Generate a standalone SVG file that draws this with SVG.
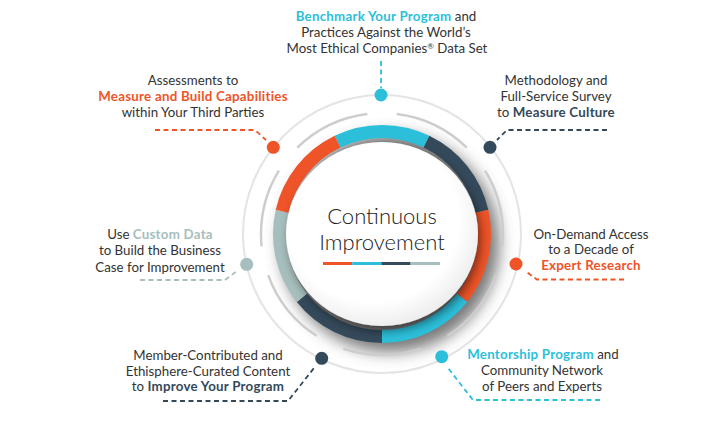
<svg xmlns="http://www.w3.org/2000/svg" width="726" height="427" viewBox="0 0 726 427">
  <defs>
    <filter id="ringShadow" x="-30%" y="-30%" width="160%" height="160%">
      <feGaussianBlur stdDeviation="8"/>
    </filter>
    <filter id="discShadow" x="-20%" y="-20%" width="140%" height="140%">
      <feDropShadow dx="3" dy="5" stdDeviation="5" flood-color="#000" flood-opacity="0.45"/>
    </filter>
    <radialGradient id="discFill" cx="0.45" cy="0.42" r="0.6">
      <stop offset="0.75" stop-color="#ffffff"/>
      <stop offset="1" stop-color="#ececec"/>
    </radialGradient>
  </defs>
  <style>
    text { font-family: Lato, "Open Sans", "Liberation Sans", sans-serif; font-size: 13.3px; fill: #333333; text-anchor: middle; }
    .b { font-weight: 700; letter-spacing: 0.25px; }
    .or { fill: #EF5428; }
    .bl { fill: #2CBFDA; }
    .dk { fill: #34495A; }
    .gr { fill: #A6BEBD; }
    .seg { fill: none; stroke-width: 13; }
    .dash { fill: none; stroke-width: 1.8; stroke-dasharray: 5 3.5; }
    .title { font-size: 22px; font-weight: 300; fill: #222222; }
  </style>

  <!-- background rings -->
  <g id="rings">
    <circle cx="382" cy="234" r="139" fill="none" stroke="#e4e4e4" stroke-width="2"/>
    <circle cx="390" cy="243" r="109" fill="#4a4a4a" opacity="0.75" filter="url(#ringShadow)"/>
    <circle cx="382" cy="234" r="121" fill="none" stroke="#cdcdcd" stroke-width="2.5"
            pathLength="700" stroke-dasharray="72.8 27.2" stroke-dashoffset="-13.6"
            transform="rotate(-90 382 234)"/>
  </g>

  <!-- colored segment ring -->
  <g id="ring">
    <path class="seg" stroke="#2CBFDA" d="M337.53,141.65 A102.5,102.5 0 0 1 426.47,141.65"/>
    <path class="seg" stroke="#34495A" d="M426.47,141.65 A102.5,102.5 0 0 1 481.93,211.19"/>
    <path class="seg" stroke="#EF5428" d="M481.93,211.19 A102.5,102.5 0 0 1 462.13,297.91"/>
    <path class="seg" stroke="#2CBFDA" d="M462.13,297.91 A102.5,102.5 0 0 1 382,336.5"/>
    <path class="seg" stroke="#34495A" d="M382,336.5 A102.5,102.5 0 0 1 301.87,297.91"/>
    <path class="seg" stroke="#A6BEBD" d="M301.87,297.91 A102.5,102.5 0 0 1 282.07,211.19"/>
    <path class="seg" stroke="#EF5428" d="M282.07,211.19 A102.5,102.5 0 0 1 337.53,141.65"/>
  </g>

  <!-- center disc -->
  <g id="center">
    <ellipse cx="382" cy="234" rx="96" ry="92" fill="url(#discFill)" filter="url(#discShadow)"/>
    <text class="title" x="382" y="224">Continuous</text>
    <text class="title" x="382" y="250">Improvement</text>
    <rect x="323" y="262" width="29.2" height="3" fill="#EF5428"/>
    <rect x="352.2" y="262" width="29.2" height="3" fill="#2CBFDA"/>
    <rect x="381.4" y="262" width="29.2" height="3" fill="#34495A"/>
    <rect x="410.6" y="262" width="29.4" height="3" fill="#A6BEBD"/>
  </g>

  <!-- connectors -->
  <g id="connectors">
    <path class="dash" stroke="#2CBFDA" d="M381,61 V88"/>
    <path class="dash" stroke="#EF5428" d="M155,130 H255 L266,140"/>
    <path class="dash" stroke="#34495A" d="M607,130 H507 L497,140"/>
    <path class="dash" stroke="#A6BEBD" d="M140,280 H225 L237,271"/>
    <path class="dash" stroke="#EF5428" d="M624,279.5 H537 L525,271"/>
    <path class="dash" stroke="#34495A" d="M163,401 H288 L314,368"/>
    <path class="dash" stroke="#2CBFDA" d="M600,400 H473 L448,368"/>
  </g>

  <!-- nodes -->
  <g id="node-benchmark">
    <circle cx="381" cy="95" r="6.5" fill="#2CBFDA"/>
    <text x="386" y="21"><tspan class="b bl">Benchmark Your Program</tspan> and</text>
    <text x="386" y="37">Practices Against the World’s</text>
    <text x="387" y="53">Most Ethical Companies<tspan font-size="8" dy="-4">®</tspan><tspan dy="4"> Data Set</tspan></text>
  </g>
  <g id="node-assessments">
    <circle cx="273.3" cy="147.3" r="6.5" fill="#EF5428"/>
    <text x="193" y="85">Assessments to</text>
    <text x="193" y="101" class="b or">Measure and Build Capabilities</text>
    <text x="193" y="117">within Your Third Parties</text>
  </g>
  <g id="node-methodology">
    <circle cx="490" cy="147.3" r="6.5" fill="#34495A"/>
    <text x="556" y="85">Methodology and</text>
    <text x="556" y="101">Full-Service Survey</text>
    <text x="556" y="117">to <tspan class="b dk">Measure Culture</tspan></text>
  </g>
  <g id="node-custom-data">
    <circle cx="246.7" cy="264.3" r="6.5" fill="#A6BEBD"/>
    <text x="160" y="238.5">Use <tspan class="b gr">Custom Data</tspan></text>
    <text x="160" y="255">to Build the Business</text>
    <text x="160" y="271.5">Case for Improvement</text>
  </g>
  <g id="node-research">
    <circle cx="516" cy="264" r="6.5" fill="#EF5428"/>
    <text x="591" y="238.5">On-Demand Access</text>
    <text x="591" y="254">to a Decade of</text>
    <text x="591" y="270" class="b or">Expert Research</text>
  </g>
  <g id="node-content">
    <circle cx="321.7" cy="358.3" r="6.5" fill="#34495A"/>
    <text x="208" y="360">Member-Contributed and</text>
    <text x="208" y="375.5">Ethisphere-Curated Content</text>
    <text x="208" y="391">to <tspan class="b dk">Improve Your Program</tspan></text>
  </g>
  <g id="node-mentorship">
    <circle cx="441.7" cy="356.7" r="6.5" fill="#2CBFDA"/>
    <text x="543" y="358.5"><tspan class="b bl">Mentorship Program</tspan> and</text>
    <text x="542" y="375">Community Network</text>
    <text x="542" y="391">of Peers and Experts</text>
  </g>
</svg>
